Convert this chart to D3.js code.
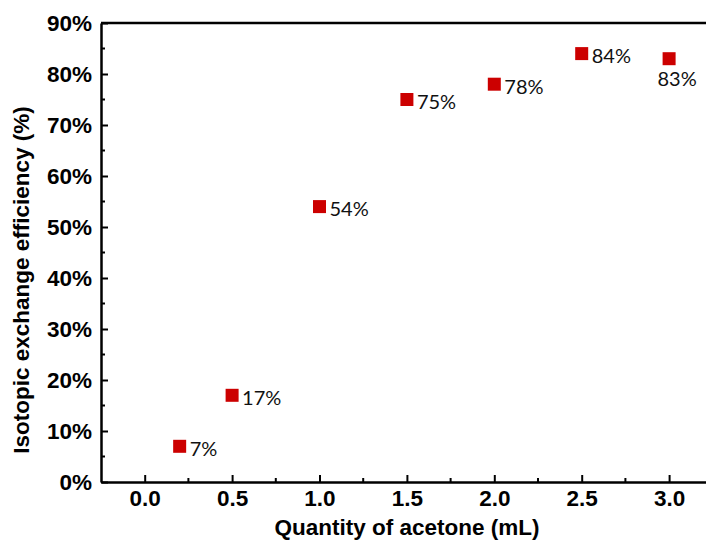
<!DOCTYPE html>
<html>
<head>
<meta charset="utf-8">
<script src="https://cdn.jsdelivr.net/npm/d3@7"></script>
<style>
  body { margin: 0; background: #fff; }
  svg text { font-family: "Liberation Sans", Arial, sans-serif; }
</style>
</head>
<body>
<div id="chart"></div>
<script>
var acetone = [0.2, 0.5, 1.0, 1.5, 2.0, 2.5, 3.0];
var efficiency = [7, 17, 54, 75, 78, 84, 83];
var pointLabels = ['7%', '17%', '54%', '75%', '78%', '84%', '83%'];
var xTicks = [0, 0.5, 1.0, 1.5, 2.0, 2.5, 3.0];
var yTicks = [0, 10, 20, 30, 40, 50, 60, 70, 80, 90];

var width = 706;
var height = 543;
var margin = {left: 101, top: 23, bottom: 61};

var svg = d3.select('#chart').append('svg')
  .attr('width', width)
  .attr('height', height);

var xScale = d3.scaleLinear()
  .domain([-0.25, 3.25])
  .range([margin.left, margin.left + 3.5 * 174.8]);

var yScale = d3.scaleLinear()
  .domain([0, 90])
  .range([height - margin.bottom, margin.top]);

// x axis, ticks inward
var xAxis = svg.append('g')
  .attr('transform', 'translate(0,' + (height - margin.bottom) + ')');
xAxis.call(d3.axisBottom(xScale).tickValues(xTicks).tickSizeInner(-7).tickSizeOuter(0)
  .tickFormat(d3.format('.1f')));

// minor x ticks
svg.append('g')
  .selectAll('line')
  .data(xTicks.map(function(d) { return d + 0.25; }).filter(function(d) { return d < 3.2; }))
  .enter().append('line')
  .attr('x1', function(d) { return xScale(d); })
  .attr('x2', function(d) { return xScale(d); })
  .attr('y1', height - margin.bottom)
  .attr('y2', height - margin.bottom - 4)
  .attr('stroke', '#000')
  .attr('stroke-width', 2);

// y axis, ticks inward
var yAxis = svg.append('g')
  .attr('transform', 'translate(' + margin.left + ',0)');
yAxis.call(d3.axisLeft(yScale).tickValues(yTicks).tickSizeInner(-7).tickSizeOuter(0)
  .tickFormat(function(d) { return d + '%'; }));

// minor y ticks
svg.append('g')
  .selectAll('line')
  .data(yTicks.slice(0, -1).map(function(d) { return d + 5; }))
  .enter().append('line')
  .attr('x1', margin.left)
  .attr('x2', margin.left + 4)
  .attr('y1', function(d) { return yScale(d); })
  .attr('y2', function(d) { return yScale(d); })
  .attr('stroke', '#000')
  .attr('stroke-width', 2);

[xAxis, yAxis].forEach(function(ax) {
  ax.select('.domain').attr('stroke-width', 2.5);
  ax.selectAll('.tick line').attr('stroke-width', 2);
  ax.selectAll('.tick text')
    .style('font-size', '22.5px')
    .style('font-weight', 'bold')
    .style('font-family', '"Liberation Sans", Arial, sans-serif')
    .attr('fill', '#000');
});
xAxis.selectAll('.tick text').attr('y', 24).attr('dy', 0);
yAxis.selectAll('.tick text').attr('x', -9);

// top frame line
svg.append('line')
  .attr('x1', margin.left)
  .attr('x2', width)
  .attr('y1', yScale(90))
  .attr('y2', yScale(90))
  .attr('stroke', '#000')
  .attr('stroke-width', 2.5);

// points
var data = acetone.map(function(d, i) {
  return {x: d, y: efficiency[i], label: pointLabels[i]};
});

var size = 13;
svg.selectAll('.pt')
  .data(data)
  .enter().append('rect')
  .attr('class', 'pt')
  .attr('x', function(d) { return xScale(d.x) - size / 2; })
  .attr('y', function(d) { return yScale(d.y) - size / 2; })
  .attr('width', size)
  .attr('height', size)
  .attr('fill', '#CC0000');

// the last label sits under its marker
svg.selectAll('.lbl')
  .data(data)
  .enter().append('text')
  .attr('class', 'lbl')
  .attr('x', function(d, i) { return i === 6 ? xScale(d.x) + 8 : xScale(d.x) + 10; })
  .attr('y', function(d, i) { return i === 6 ? yScale(d.y) + 27 : yScale(d.y) + 9.5; })
  .attr('text-anchor', function(d, i) { return i === 6 ? 'middle' : 'start'; })
  .style('font-family', 'Lato, "Open Sans", sans-serif')
  .style('font-size', '20px')
  .attr('fill', '#111')
  .text(function(d) { return d.label; });

// axis titles
svg.append('text')
  .attr('x', 407)
  .attr('y', 535)
  .attr('text-anchor', 'middle')
  .style('font-size', '22.5px')
  .style('font-weight', 'bold')
  .text('Quantity of acetone (mL)');

svg.append('text')
  .attr('transform', 'translate(29,280) rotate(-90)')
  .attr('text-anchor', 'middle')
  .style('font-size', '22.5px')
  .style('font-weight', 'bold')
  .text('Isotopic exchange efficiency (%)');
</script>
</body>
</html>
